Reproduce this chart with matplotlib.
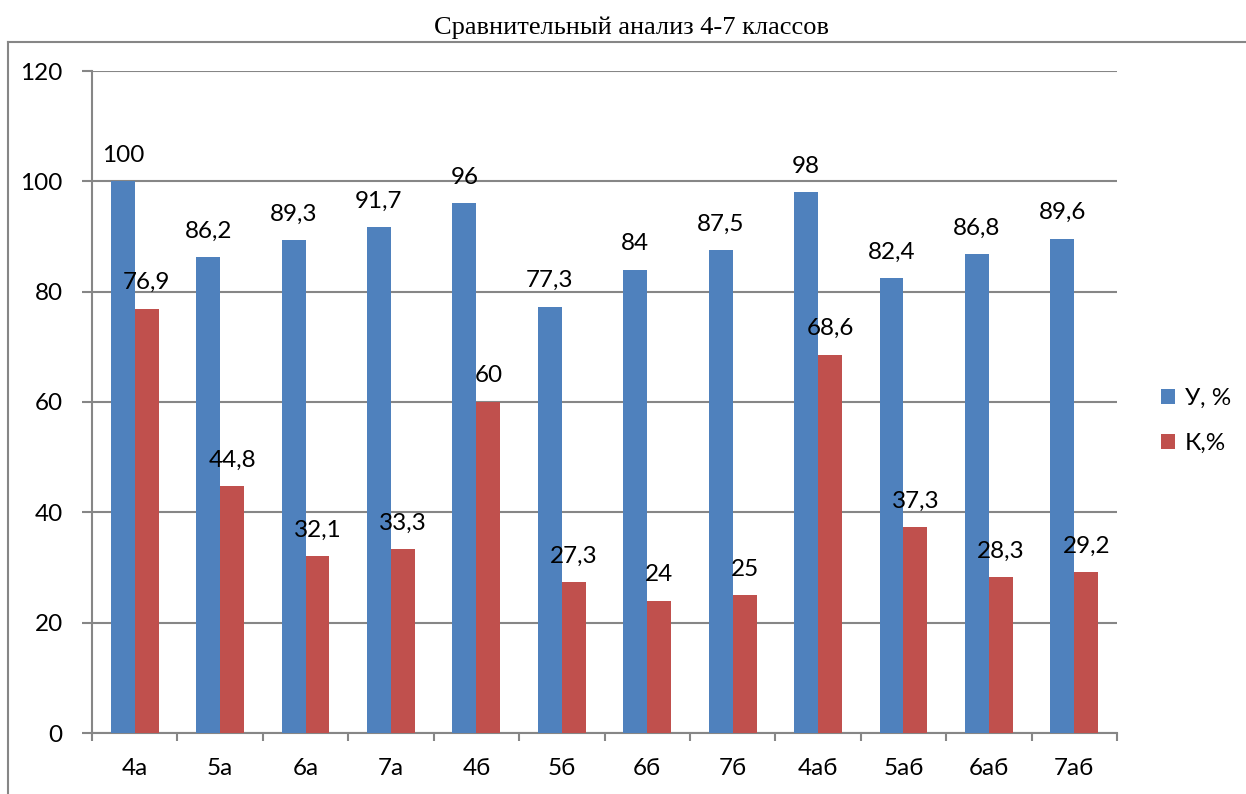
import matplotlib
matplotlib.use("Agg")
import matplotlib.pyplot as plt
from matplotlib.lines import Line2D
import numpy as np

classes = ["4а", "5а", "6а", "7а", "4б", "5б", "6б", "7б", "4аб", "5аб", "6аб", "7аб"]
u_pct = [100, 86.2, 89.3, 91.7, 96, 77.3, 84, 87.5, 98, 82.4, 86.8, 89.6]
k_pct = [76.9, 44.8, 32.1, 33.3, 60, 27.3, 24, 25, 68.6, 37.3, 28.3, 29.2]
series_names = ["У, %", "К,%"]
colors = ["#4F81BD", "#C0504D"]
grid_col = "#868686"

W, H = 1246, 794
fig = plt.figure(figsize=(W / 100, H / 100), dpi=100)
ax = fig.add_axes([92 / W, (H - 733) / H, (1117 - 92) / W, (733 - 71) / H])

x = np.arange(len(classes))
bw = 0.28
font = "Lato"
fs = 17.5

for i, (vals, name, c) in enumerate(zip([u_pct, k_pct], series_names, colors)):
    pos = x + (i - 0.5) * bw
    ax.bar(pos, vals, width=bw, color=c, label=name, zorder=3)
    for px, v in zip(pos, vals):
        ax.annotate(f"{v:g}".replace(".", ","), (px, v), xytext=(0, 26),
                    textcoords="offset pixels", ha="center", va="center",
                    fontsize=fs, family=font, zorder=4)

ax.set_xlim(-0.5, len(classes) - 0.5)
ax.set_ylim(0, 120)
ax.set_yticks(range(0, 121, 20))
ax.yaxis.grid(True, color=grid_col, linewidth=1.5, zorder=0)
ax.set_axisbelow(True)

# category ticks sit on the group boundaries, labels in the middle
ax.set_xticks(np.arange(-0.5, len(classes), 1))
ax.set_xticklabels([])
ax.set_xticks(x, minor=True)
ax.set_xticklabels(classes, minor=True, fontsize=fs, family=font)
ax.tick_params(axis="x", which="major", length=6, width=1.5, color=grid_col, direction="out")
ax.tick_params(axis="x", which="minor", length=0, pad=18)
ax.tick_params(axis="y", length=7, width=1.5, color=grid_col, pad=14, labelsize=fs)
for lab in ax.get_yticklabels():
    lab.set_family(font)

for s in ["top", "right"]:
    ax.spines[s].set_visible(False)
for s in ["left", "bottom"]:
    ax.spines[s].set_color(grid_col)
    ax.spines[s].set_linewidth(1.5)

leg = fig.legend(loc="center left", bbox_to_anchor=(1139 / W, 1 - 421 / H), frameon=False,
                 prop={"family": font, "size": fs}, handlelength=0.6, handleheight=0.6,
                 labelspacing=1.0, handletextpad=0.4)

fig.text(632 / W, 1 - 28 / H, "Сравнительный анализ 4-7 классов", ha="center", va="center",
         fontsize=19, family="Liberation Serif")

# chart border (only top and left edges are visible in the crop)
fig.add_artist(Line2D([8 / W, 1], [1 - 42 / H, 1 - 42 / H], color=grid_col, linewidth=1.5))
fig.add_artist(Line2D([8 / W, 8 / W], [0, 1 - 42 / H], color=grid_col, linewidth=1.5))

fig.savefig("out.png", dpi=100)
